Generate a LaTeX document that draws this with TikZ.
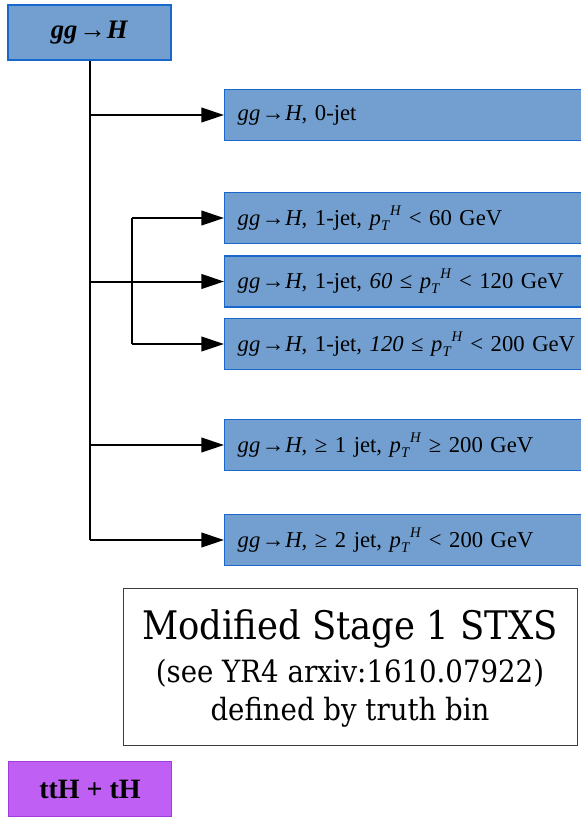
\documentclass[tikz,border=0pt]{standalone}
\usepackage{fontspec}
\setmainfont{Liberation Serif}
\newfontfamily\slabfont[FakeStretch=0.9]{DejaVu Serif}
\usetikzlibrary{positioning,arrows.meta,calc}

\definecolor{binfill}{RGB}{114,159,207}
\definecolor{binedge}{RGB}{25,105,205}
\definecolor{ttfill}{RGB}{191,95,243}
\definecolor{ttedge}{RGB}{160,60,220}
\definecolor{framegray}{RGB}{60,60,60}

\tikzset{
  binbox/.style={draw=binedge,line width=1.1pt,fill=binfill,anchor=west,minimum height=38pt,
    text width=300pt,inner xsep=9.75pt,align=left,font=\fontsize{17}{20}\selectfont},
  procbox/.style={line width=1.1pt,minimum width=122.5pt,minimum height=41.5pt,
    font=\fontsize{20}{24}\selectfont\bfseries},
  flow/.style={line width=1.5pt,-{Triangle[length=17pt,width=11pt]}},
  trunk/.style={line width=1.5pt},
  legendtext/.style={anchor=base,inner sep=0pt},
}
\newcommand{\ggH}{\textit{gg}\kern0.07em→\kern0.03em\textit{H}}
\newcommand{\ptH}{\textit{p}\raisebox{-0.45ex}{\fontsize{11}{12}\selectfont\textit{T}}\raisebox{0.95ex}{\fontsize{11}{12}\selectfont\textit{H}}}

\begin{document}
\begin{tikzpicture}[x=0.75pt,y=-0.75pt]
\useasboundingbox (0,0) rectangle (581,819);
% production mode
\node[procbox,draw=binedge,fill=binfill] (ggH) at (89.5,32.5) {\ggH};
% truth bins
\node[binbox] (b0) at (224,115) {\ggH, 0-jet};
\node[binbox] (b1) at (224,218) {\ggH, 1-jet, \ptH{} < 60 GeV};
\node[binbox] (b2) at (224,281.5) {\ggH, 1-jet, \textit{60} ≤ \ptH{} < 120 GeV};
\node[binbox] (b3) at (224,344) {\ggH, 1-jet, \textit{120} ≤ \ptH{} < 200 GeV};
\node[binbox] (b4) at (224,445) {\ggH, ≥ 1 jet, \ptH{} ≥ 200 GeV};
\node[binbox] (b5) at (224,540) {\ggH, ≥ 2 jet, \ptH{} < 200 GeV};
% connectors
\draw[trunk] (ggH.south) -- (ggH.south |- b5.west);
\foreach \b in {b0,b2,b4,b5}
  \draw[flow] (ggH.south |- \b.west) -- (\b.west);
\coordinate (split) at (132,0);
\draw[trunk] (split |- b1.west) -- (split |- b3.west);
\draw[flow] (split |- b1.west) -- (b1.west);
\draw[flow] (split |- b3.west) -- (b3.west);
% legend
\node[draw=framegray,line width=0.75pt,minimum width=340.5pt,minimum height=117.75pt] (legend) at (350,666.5) {};
\node[legendtext,font=\slabfont\fontsize{29.5}{32}\selectfont] (title) at (350,639) {Modified Stage 1 STXS};
\node[legendtext,font=\slabfont\fontsize{23}{26}\selectfont] (ref) at (350,682) {(see YR4 arxiv:1610.07922)};
\node[legendtext,font=\slabfont\fontsize{23}{26}\selectfont] (note) at (350,720) {defined by truth bin};
% second production mode
\node[procbox,draw=ttedge,fill=ttfill,font=\fontsize{21}{24}\selectfont\bfseries] (ttH) at (90,789) {ttH + tH};
\end{tikzpicture}
\end{document}
